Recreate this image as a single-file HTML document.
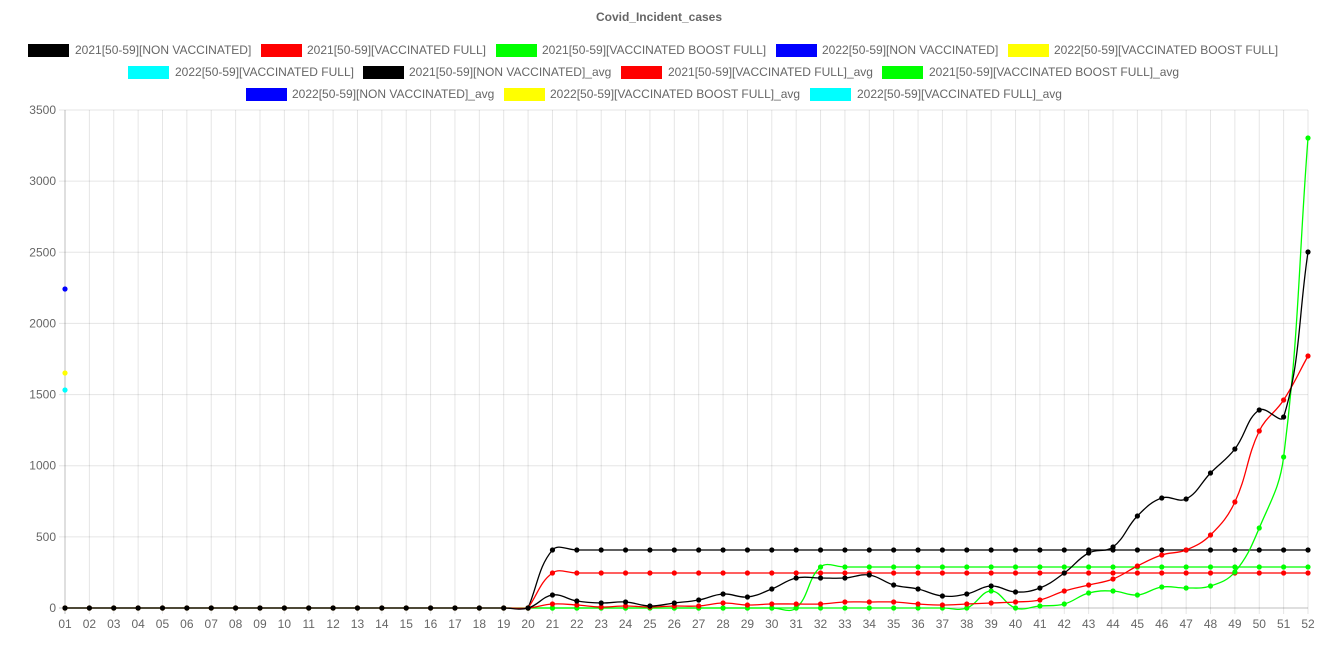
<!DOCTYPE html>
<html><head><meta charset="utf-8"><style>
body{margin:0;background:#fff;}
svg{display:block;font-family:"Liberation Sans",Arial,sans-serif;}
</style></head><body>
<svg id="s" width="1318" height="659" xmlns="http://www.w3.org/2000/svg">
<text x="659" y="21" text-anchor="middle" font-size="12" font-weight="bold" fill="#666">Covid_Incident_cases</text>
<g font-size="12" fill="#666">
<rect x="28" y="44" width="41" height="13" fill="#000"/><text x="75" y="54">2021[50-59][NON VACCINATED]</text>
<rect x="261" y="44" width="41" height="13" fill="#f00"/><text x="307" y="54">2021[50-59][VACCINATED FULL]</text>
<rect x="496" y="44" width="41" height="13" fill="#0f0"/><text x="542" y="54">2021[50-59][VACCINATED BOOST FULL]</text>
<rect x="776" y="44" width="41" height="13" fill="#00f"/><text x="822" y="54">2022[50-59][NON VACCINATED]</text>
<rect x="1008" y="44" width="41" height="13" fill="#ff0"/><text x="1054" y="54">2022[50-59][VACCINATED BOOST FULL]</text>
<rect x="128" y="66" width="41" height="13" fill="#0ff"/><text x="175" y="76">2022[50-59][VACCINATED FULL]</text>
<rect x="363" y="66" width="41" height="13" fill="#000"/><text x="409" y="76">2021[50-59][NON VACCINATED]_avg</text>
<rect x="621" y="66" width="41" height="13" fill="#f00"/><text x="668" y="76">2021[50-59][VACCINATED FULL]_avg</text>
<rect x="882" y="66" width="41" height="13" fill="#0f0"/><text x="929" y="76">2021[50-59][VACCINATED BOOST FULL]_avg</text>
<rect x="246" y="88" width="41" height="13" fill="#00f"/><text x="292" y="98">2022[50-59][NON VACCINATED]_avg</text>
<rect x="504" y="88" width="41" height="13" fill="#ff0"/><text x="550" y="98">2022[50-59][VACCINATED BOOST FULL]_avg</text>
<rect x="810" y="88" width="41" height="13" fill="#0ff"/><text x="857" y="98">2022[50-59][VACCINATED FULL]_avg</text>
</g>
<g id="grid"></g>
<g id="data"></g>
</svg>
<script>
var NS="http://www.w3.org/2000/svg";
function el(t,a,p){var e=document.createElementNS(NS,t);for(var k in a)e.setAttribute(k,a[k]);p.appendChild(e);return e;}
var g=document.getElementById('grid'),d=document.getElementById('data');
var x0=65,dx=(1308-65)/51,y0=608,yt=110;
function X(i){return x0+i*dx;}
for(var i=0;i<52;i++){var x=X(i);el('line',{x1:x,y1:yt,x2:x,y2:614,stroke:i==0?'rgba(0,0,0,0.25)':'rgba(0,0,0,0.1)'},g);
var t=el('text',{x:x,y:628,'text-anchor':'middle','font-size':12,fill:'#666'},g);t.textContent=(i<9?'0':'')+(i+1);}
for(var v=0;v<=3500;v+=500){var y=y0-(y0-yt)*v/3500;el('line',{x1:59,y1:y,x2:1308,y2:y,stroke:v==0?'rgba(0,0,0,0.25)':'rgba(0,0,0,0.1)'},g);
var t=el('text',{x:56,y:y+4,'text-anchor':'end','font-size':12,fill:'#666'},g);t.textContent=v;}
function zeros(n){var a=[];for(var i=0;i<n;i++)a.push(608);return a;}
var blk=zeros(20).concat([595,601,603,602,606,603,600,594,597,589,578,578,578,575,585,589,596,594,586,592,588,573,553,547,516,498,499,473,449,410,417,252]);
var red=zeros(20).concat([604,605,607,606,607,606,606,603,605,604,604,604,602,602,602,604,605,604,603,602,600,591,585,579,566,555,550,535,502,431,400,356]);
var grn=zeros(38).concat([591,608,606,604,593,591,595,587,588,586,572,528,457,138]);
function cst(v,from,start){var a=[];for(var i=0;i<52;i++)a.push(i<start?null:(i<from?608:v));return a;}
var bA=cst(550,20,19),rA=cst(573,20,19),gA=cst(567,31,19);
function path(pts){if(pts.length<2)return '';var s='M'+pts[0][0]+','+pts[0][1];var T=0.4;
var cp=[];for(var i=0;i<pts.length;i++){var p=pts[i-1]||pts[i],c=pts[i],n=pts[i+1]||pts[i];
var d01=Math.hypot(c[0]-p[0],c[1]-p[1]),d12=Math.hypot(n[0]-c[0],n[1]-c[1]);var s01=d01/(d01+d12||1),s12=d12/(d01+d12||1);
var fa=T*s01,fb=T*s12;cp.push([[c[0]-fa*(n[0]-p[0]),c[1]-fa*(n[1]-p[1])],[c[0]+fb*(n[0]-p[0]),c[1]+fb*(n[1]-p[1])]]);}
for(var i=1;i<pts.length;i++){var a=cp[i-1][1],b=cp[i][0];s+=' C'+a[0]+','+a[1]+' '+b[0]+','+b[1]+' '+pts[i][0]+','+pts[i][1];}return s;}
function series(arr,col){var pts=[];arr.forEach(function(v,i){if(v!=null)pts.push([X(i),v]);});
el('path',{d:path(pts),fill:'none',stroke:col,'stroke-width':1.3},d);
pts.forEach(function(p){el('circle',{cx:p[0],cy:p[1],r:2.6,fill:col},d);});}
series(bA,'#000');series(rA,'#f00');series(gA,'#0f0');
series(grn,'#0f0');series(red,'#f00');series(blk,'#000');
el('circle',{cx:65,cy:289,r:2.6,fill:'#00f'},d);
el('circle',{cx:65,cy:373,r:2.6,fill:'#ff0'},d);
el('circle',{cx:65,cy:390,r:2.6,fill:'#0ff'},d);
</script>
</body></html>
